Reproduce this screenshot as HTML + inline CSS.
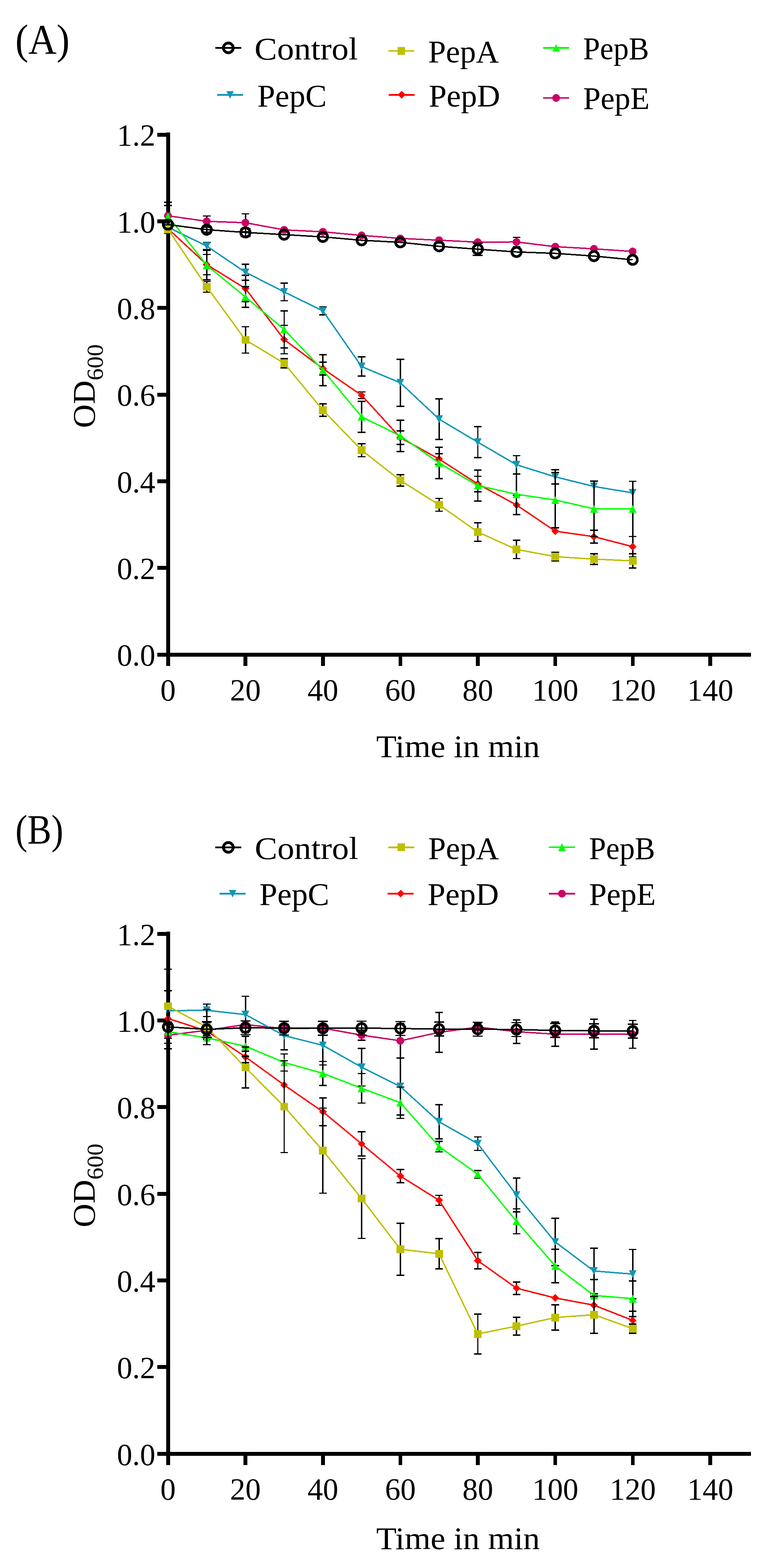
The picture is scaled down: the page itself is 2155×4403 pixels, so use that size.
<!DOCTYPE html>
<html><head><meta charset="utf-8"><title>OD600 time course</title>
<style>html,body{margin:0;padding:0;background:#fff}svg{display:block}</style>
</head><body>
<svg width="2155" height="4403" viewBox="0 0 2155 4403">
<style>
text{font-family:'Liberation Serif', 'DejaVu Serif', serif;fill:#000}
rect,path,polyline,polygon,circle,line{shape-rendering:crispEdges}
.tk{font-size:86.5px}
.ax{font-size:89px}
.lg{font-size:89px}
.sub{font-size:65px}
.pl{font-size:117.5px}
</style>
<rect width="2155" height="4403" fill="#fff"/>
<text x="42.0" y="150.6" class="pl" transform="matrix(0.93725 0 0 1.00000 3.55 0.00)">(A)</text>
<text x="42.0" y="2369.5" class="pl" transform="matrix(0.86027 0 0 1.00000 7.17 0.00)">(B)</text>
<line x1="604.9" y1="134.4" x2="678.1" y2="134.4" stroke="#000000" stroke-width="4.6"/>
<circle cx="641.5" cy="134.4" r="13.65" fill="none" stroke="#000" stroke-width="7.9"/>
<text x="714.5" y="167.2" class="lg" transform="matrix(1.06929 0 0 1.00000 -48.95 0.00)">Control</text>
<line x1="1091" y1="142.9" x2="1164" y2="142.9" stroke="#BFBF00" stroke-width="4.6"/>
<rect x="1116.6" y="132.0" width="21.8" height="21.8" fill="#BFBF00"/>
<text x="1202.0" y="175.2" class="lg" transform="matrix(1.00567 0 0 1.00000 -5.93 0.00)">PepA</text>
<line x1="1526" y1="134.5" x2="1599" y2="134.5" stroke="#00FF00" stroke-width="4.6"/>
<polygon points="1562.5,123.6 1573.4,145.4 1551.6,145.4" fill="#00FF00"/>
<text x="1637.0" y="166.3" class="lg" transform="matrix(0.95968 0 0 1.00000 67.33 0.00)">PepB</text>
<line x1="609.9" y1="266.5" x2="683.1" y2="266.5" stroke="#1097B4" stroke-width="4.6"/>
<polygon points="635.6,255.6 657.4,255.6 646.5,277.4" fill="#1097B4"/>
<text x="722.0" y="298.9" class="lg" transform="matrix(1.01081 0 0 1.00000 -6.84 0.00)">PepC</text>
<line x1="1092.1" y1="266.4" x2="1165" y2="266.4" stroke="#FF0000" stroke-width="4.6"/>
<polygon points="1128.5,255.5 1139.5,266.4 1128.5,277.3 1117.6,266.4" fill="#FF0000"/>
<text x="1203.0" y="298.9" class="lg" transform="matrix(1.01623 0 0 1.00000 -18.07 0.00)">PepD</text>
<line x1="1525.9" y1="275" x2="1599" y2="275" stroke="#CC0066" stroke-width="4.6"/>
<circle cx="1562.5" cy="275.0" r="10.90" fill="#CC0066"/>
<text x="1637.0" y="306.2" class="lg" transform="matrix(0.99556 0 0 1.00000 8.49 0.00)">PepE</text>
<line x1="604.9" y1="2379.5" x2="678.1" y2="2379.5" stroke="#000000" stroke-width="4.6"/>
<circle cx="641.5" cy="2379.5" r="13.65" fill="none" stroke="#000" stroke-width="7.9"/>
<text x="715.3" y="2412.0" class="lg" transform="matrix(1.07030 0 0 1.00000 -49.95 0.00)">Control</text>
<line x1="1090.8" y1="2379.3" x2="1164" y2="2379.3" stroke="#BFBF00" stroke-width="4.6"/>
<rect x="1116.5" y="2368.4" width="21.8" height="21.8" fill="#BFBF00"/>
<text x="1202.0" y="2412.0" class="lg" transform="matrix(1.00567 0 0 1.00000 -5.93 0.00)">PepA</text>
<line x1="1542.2" y1="2379" x2="1615.8" y2="2379" stroke="#00FF00" stroke-width="4.6"/>
<polygon points="1579.0,2368.1 1589.9,2389.9 1568.1,2389.9" fill="#00FF00"/>
<text x="1654.0" y="2412.0" class="lg" transform="matrix(0.96183 0 0 1.00000 64.25 0.00)">PepB</text>
<line x1="617" y1="2509.5" x2="690" y2="2509.5" stroke="#1097B4" stroke-width="4.6"/>
<polygon points="642.6,2498.6 664.4,2498.6 653.5,2520.4" fill="#1097B4"/>
<text x="728.0" y="2540.9" class="lg" transform="matrix(1.01784 0 0 1.00000 -12.14 0.00)">PepC</text>
<line x1="1089.2" y1="2509.4" x2="1162.1" y2="2509.4" stroke="#FF0000" stroke-width="4.6"/>
<polygon points="1125.7,2498.5 1136.6,2509.4 1125.7,2520.3 1114.8,2509.4" fill="#FF0000"/>
<text x="1200.0" y="2541.1" class="lg" transform="matrix(1.01309 0 0 1.00000 -14.45 0.00)">PepD</text>
<line x1="1542.2" y1="2509.4" x2="1615.8" y2="2509.4" stroke="#CC0066" stroke-width="4.6"/>
<circle cx="1579.0" cy="2509.4" r="10.90" fill="#CC0066"/>
<text x="1654.0" y="2541.1" class="lg" transform="matrix(0.99889 0 0 1.00000 2.84 0.00)">PepE</text>
<rect x="466.5" y="372" width="11" height="1497.5" fill="#000"/>
<rect x="442" y="1832.6" width="1667.5" height="11" fill="#000"/>
<rect x="442" y="1832.6" width="30" height="11" fill="#000"/>
<rect x="442" y="1589.2" width="30" height="11" fill="#000"/>
<rect x="442" y="1345.9" width="30" height="11" fill="#000"/>
<rect x="442" y="1102.5" width="30" height="11" fill="#000"/>
<rect x="442" y="859.2" width="30" height="11" fill="#000"/>
<rect x="442" y="615.8" width="30" height="11" fill="#000"/>
<rect x="442" y="372.5" width="30" height="11" fill="#000"/>
<rect x="684.4" y="1838" width="10.4" height="31.5" fill="#000"/>
<rect x="902.1" y="1838" width="10.4" height="31.5" fill="#000"/>
<rect x="1119.8" y="1838" width="10.4" height="31.5" fill="#000"/>
<rect x="1337.4" y="1838" width="10.4" height="31.5" fill="#000"/>
<rect x="1555.0" y="1838" width="10.4" height="31.5" fill="#000"/>
<rect x="1772.7" y="1838" width="10.4" height="31.5" fill="#000"/>
<rect x="1990.3" y="1838" width="10.4" height="31.5" fill="#000"/>
<text x="436.6" y="1869.4" text-anchor="end" class="tk">0.0</text>
<text x="436.6" y="1626.0" text-anchor="end" class="tk">0.2</text>
<text x="436.6" y="1382.7" text-anchor="end" class="tk">0.4</text>
<text x="436.6" y="1139.3" text-anchor="end" class="tk">0.6</text>
<text x="436.6" y="896.0" text-anchor="end" class="tk">0.8</text>
<text x="436.6" y="652.6" text-anchor="end" class="tk">1.0</text>
<text x="436.6" y="409.3" text-anchor="end" class="tk">1.2</text>
<text x="472.0" y="1966.9" text-anchor="middle" class="tk">0</text>
<text x="689.6" y="1966.9" text-anchor="middle" class="tk">20</text>
<text x="907.3" y="1966.9" text-anchor="middle" class="tk">40</text>
<text x="1125.0" y="1966.9" text-anchor="middle" class="tk">60</text>
<text x="1342.6" y="1966.9" text-anchor="middle" class="tk">80</text>
<text x="1560.2" y="1966.9" text-anchor="middle" class="tk">100</text>
<text x="1777.9" y="1966.9" text-anchor="middle" class="tk">120</text>
<text x="1995.5" y="1966.9" text-anchor="middle" class="tk">140</text>
<text x="1287.5" y="2126.2" text-anchor="middle" class="ax" transform="matrix(1.05323 0 0 1.00000 -69.10 0.00)">Time in min</text>
<text transform="translate(266.3,1202.0) rotate(-90) scale(1.0409,1)" class="ax">OD<tspan class="sub" dy="22.5">600</tspan></text>
<rect x="466.5" y="2616.2" width="11" height="1497.5" fill="#000"/>
<rect x="442" y="4076.7999999999997" width="1667.5" height="11" fill="#000"/>
<rect x="442" y="4076.8" width="30" height="11" fill="#000"/>
<rect x="442" y="3833.4" width="30" height="11" fill="#000"/>
<rect x="442" y="3590.1" width="30" height="11" fill="#000"/>
<rect x="442" y="3346.8" width="30" height="11" fill="#000"/>
<rect x="442" y="3103.4" width="30" height="11" fill="#000"/>
<rect x="442" y="2860.0" width="30" height="11" fill="#000"/>
<rect x="442" y="2616.7" width="30" height="11" fill="#000"/>
<rect x="684.4" y="4082.2" width="10.4" height="31.5" fill="#000"/>
<rect x="902.1" y="4082.2" width="10.4" height="31.5" fill="#000"/>
<rect x="1119.8" y="4082.2" width="10.4" height="31.5" fill="#000"/>
<rect x="1337.4" y="4082.2" width="10.4" height="31.5" fill="#000"/>
<rect x="1555.0" y="4082.2" width="10.4" height="31.5" fill="#000"/>
<rect x="1772.7" y="4082.2" width="10.4" height="31.5" fill="#000"/>
<rect x="1990.3" y="4082.2" width="10.4" height="31.5" fill="#000"/>
<text x="436.6" y="4113.6" text-anchor="end" class="tk">0.0</text>
<text x="436.6" y="3870.2" text-anchor="end" class="tk">0.2</text>
<text x="436.6" y="3626.9" text-anchor="end" class="tk">0.4</text>
<text x="436.6" y="3383.6" text-anchor="end" class="tk">0.6</text>
<text x="436.6" y="3140.2" text-anchor="end" class="tk">0.8</text>
<text x="436.6" y="2896.8" text-anchor="end" class="tk">1.0</text>
<text x="436.6" y="2653.5" text-anchor="end" class="tk">1.2</text>
<text x="472.0" y="4211.1" text-anchor="middle" class="tk">0</text>
<text x="689.6" y="4211.1" text-anchor="middle" class="tk">20</text>
<text x="907.3" y="4211.1" text-anchor="middle" class="tk">40</text>
<text x="1125.0" y="4211.1" text-anchor="middle" class="tk">60</text>
<text x="1342.6" y="4211.1" text-anchor="middle" class="tk">80</text>
<text x="1560.2" y="4211.1" text-anchor="middle" class="tk">100</text>
<text x="1777.9" y="4211.1" text-anchor="middle" class="tk">120</text>
<text x="1995.5" y="4211.1" text-anchor="middle" class="tk">140</text>
<text x="1287.5" y="4350.0" text-anchor="middle" class="ax" transform="matrix(1.05323 0 0 1.00000 -69.10 0.00)">Time in min</text>
<text transform="translate(266.3,3446.4) rotate(-90) scale(1.0409,1)" class="ax">OD<tspan class="sub" dy="22.5">600</tspan></text>
<g><path d="M472.0 567.9V643.9M461.2 567.9H482.8M461.2 643.9H482.8" stroke="#000" stroke-width="3.8" fill="none"/><path d="M580.8 606.5V636.5M570.0 606.5H591.5M570.0 636.5H591.5" stroke="#000" stroke-width="3.8" fill="none"/><path d="M689.6 600.4V650.4M678.9 600.4H700.4M678.9 650.4H700.4" stroke="#000" stroke-width="3.8" fill="none"/><path d="M1451.2 666.4V692.4M1440.5 666.4H1462.0M1440.5 692.4H1462.0" stroke="#000" stroke-width="3.8" fill="none"/><polyline points="472.0,605.9 580.8,621.5 689.6,625.4 798.4,645.5 907.2,651.0 1016.0,661.0 1124.8,669.5 1233.6,674.5 1342.4,680.0 1451.2,679.4 1560.0,692.7 1668.8,698.7 1777.6,706.2" fill="none" stroke="#CC0066" stroke-width="4.0" stroke-linejoin="miter"/><circle cx="472.0" cy="605.9" r="10.90" fill="#CC0066"/><circle cx="580.8" cy="621.5" r="10.90" fill="#CC0066"/><circle cx="689.6" cy="625.4" r="10.90" fill="#CC0066"/><circle cx="798.4" cy="645.5" r="10.90" fill="#CC0066"/><circle cx="907.2" cy="651.0" r="10.90" fill="#CC0066"/><circle cx="1016.0" cy="661.0" r="10.90" fill="#CC0066"/><circle cx="1124.8" cy="669.5" r="10.90" fill="#CC0066"/><circle cx="1233.6" cy="674.5" r="10.90" fill="#CC0066"/><circle cx="1342.4" cy="680.0" r="10.90" fill="#CC0066"/><circle cx="1451.2" cy="679.4" r="10.90" fill="#CC0066"/><circle cx="1560.0" cy="692.7" r="10.90" fill="#CC0066"/><circle cx="1668.8" cy="698.7" r="10.90" fill="#CC0066"/><circle cx="1777.6" cy="706.2" r="10.90" fill="#CC0066"/></g>
<g><path d="M580.8 714.5V771.5M570.0 714.5H591.5M570.0 771.5H591.5" stroke="#000" stroke-width="3.8" fill="none"/><path d="M689.6 773.2V847.2M678.9 773.2H700.4M678.9 847.2H700.4" stroke="#000" stroke-width="3.8" fill="none"/><path d="M798.4 913.5V993.5M787.7 913.5H809.2M787.7 993.5H809.2" stroke="#000" stroke-width="3.8" fill="none"/><path d="M907.2 1017.0V1053.0M896.5 1017.0H918.0M896.5 1053.0H918.0" stroke="#000" stroke-width="3.8" fill="none"/><path d="M1016.0 1100.5V1119.5M1005.2 1100.5H1026.8M1005.2 1119.5H1026.8" stroke="#000" stroke-width="3.8" fill="none"/><path d="M1124.8 1210.0V1248.0M1114.1 1210.0H1135.6M1114.1 1248.0H1135.6" stroke="#000" stroke-width="3.8" fill="none"/><path d="M1233.6 1274.0V1304.0M1222.8 1274.0H1244.3M1222.8 1304.0H1244.3" stroke="#000" stroke-width="3.8" fill="none"/><path d="M1342.4 1337.4V1380.6M1331.7 1337.4H1353.2M1331.7 1380.6H1353.2" stroke="#000" stroke-width="3.8" fill="none"/><path d="M1451.2 1391.0V1445.0M1440.5 1391.0H1462.0M1440.5 1445.0H1462.0" stroke="#000" stroke-width="3.8" fill="none"/><path d="M1668.8 1489.0V1525.0M1658.1 1489.0H1679.6M1658.1 1525.0H1679.6" stroke="#000" stroke-width="3.8" fill="none"/><path d="M1777.6 1506.5V1563.5M1766.9 1506.5H1788.4M1766.9 1563.5H1788.4" stroke="#000" stroke-width="3.8" fill="none"/><polyline points="472.0,642.0 580.8,743.0 689.6,810.2 798.4,953.5 907.2,1035.0 1016.0,1110.0 1124.8,1229.0 1233.6,1289.0 1342.4,1359.0 1451.2,1418.0 1560.0,1491.5 1668.8,1507.0 1777.6,1535.0" fill="none" stroke="#FF0000" stroke-width="4.0" stroke-linejoin="miter"/><polygon points="472.0,631.1 482.9,642.0 472.0,652.9 461.1,642.0" fill="#FF0000"/><polygon points="580.8,732.1 591.7,743.0 580.8,753.9 569.9,743.0" fill="#FF0000"/><polygon points="689.6,799.3 700.5,810.2 689.6,821.1 678.7,810.2" fill="#FF0000"/><polygon points="798.4,942.6 809.3,953.5 798.4,964.4 787.5,953.5" fill="#FF0000"/><polygon points="907.2,1024.1 918.1,1035.0 907.2,1045.9 896.3,1035.0" fill="#FF0000"/><polygon points="1016.0,1099.1 1026.9,1110.0 1016.0,1120.9 1005.1,1110.0" fill="#FF0000"/><polygon points="1124.8,1218.1 1135.7,1229.0 1124.8,1239.9 1113.9,1229.0" fill="#FF0000"/><polygon points="1233.6,1278.1 1244.5,1289.0 1233.6,1299.9 1222.7,1289.0" fill="#FF0000"/><polygon points="1342.4,1348.1 1353.3,1359.0 1342.4,1369.9 1331.5,1359.0" fill="#FF0000"/><polygon points="1451.2,1407.1 1462.1,1418.0 1451.2,1428.9 1440.3,1418.0" fill="#FF0000"/><polygon points="1560.0,1480.6 1570.9,1491.5 1560.0,1502.4 1549.1,1491.5" fill="#FF0000"/><polygon points="1668.8,1496.1 1679.7,1507.0 1668.8,1517.9 1657.9,1507.0" fill="#FF0000"/><polygon points="1777.6,1524.1 1788.5,1535.0 1777.6,1545.9 1766.7,1535.0" fill="#FF0000"/></g>
<g><path d="M580.8 680.9V700.9M570.0 680.9H591.5M570.0 700.9H591.5" stroke="#000" stroke-width="3.8" fill="none"/><path d="M689.6 741.7V787.3M678.9 741.7H700.4M678.9 787.3H700.4" stroke="#000" stroke-width="3.8" fill="none"/><path d="M798.4 795.1V844.5M787.7 795.1H809.2M787.7 844.5H809.2" stroke="#000" stroke-width="3.8" fill="none"/><path d="M907.2 862.0V884.0M896.5 862.0H918.0M896.5 884.0H918.0" stroke="#000" stroke-width="3.8" fill="none"/><path d="M1016.0 1002.3V1056.3M1005.2 1002.3H1026.8M1005.2 1056.3H1026.8" stroke="#000" stroke-width="3.8" fill="none"/><path d="M1124.8 1009.3V1140.7M1114.1 1009.3H1135.6M1114.1 1140.7H1135.6" stroke="#000" stroke-width="3.8" fill="none"/><path d="M1233.6 1120.0V1234.0M1222.8 1120.0H1244.3M1222.8 1234.0H1244.3" stroke="#000" stroke-width="3.8" fill="none"/><path d="M1342.4 1198.2V1285.0M1331.7 1198.2H1353.2M1331.7 1285.0H1353.2" stroke="#000" stroke-width="3.8" fill="none"/><path d="M1451.2 1279.4V1330.6M1440.5 1279.4H1462.0M1440.5 1330.6H1462.0" stroke="#000" stroke-width="3.8" fill="none"/><path d="M1560.0 1319.0V1359.0M1549.2 1319.0H1570.8M1549.2 1359.0H1570.8" stroke="#000" stroke-width="3.8" fill="none"/><polyline points="472.0,638.0 580.8,690.9 689.6,764.5 798.4,819.8 907.2,873.0 1016.0,1029.3 1124.8,1075.0 1233.6,1177.0 1342.4,1241.6 1451.2,1305.0 1560.0,1339.0 1668.8,1366.0 1777.6,1384.0" fill="none" stroke="#1097B4" stroke-width="4.0" stroke-linejoin="miter"/><polygon points="461.1,627.1 482.9,627.1 472.0,648.9" fill="#1097B4"/><polygon points="569.9,680.0 591.7,680.0 580.8,701.8" fill="#1097B4"/><polygon points="678.7,753.6 700.5,753.6 689.6,775.4" fill="#1097B4"/><polygon points="787.5,808.9 809.3,808.9 798.4,830.7" fill="#1097B4"/><polygon points="896.3,862.1 918.1,862.1 907.2,883.9" fill="#1097B4"/><polygon points="1005.1,1018.4 1026.9,1018.4 1016.0,1040.2" fill="#1097B4"/><polygon points="1113.9,1064.1 1135.7,1064.1 1124.8,1085.9" fill="#1097B4"/><polygon points="1222.7,1166.1 1244.5,1166.1 1233.6,1187.9" fill="#1097B4"/><polygon points="1331.5,1230.7 1353.3,1230.7 1342.4,1252.5" fill="#1097B4"/><polygon points="1440.3,1294.1 1462.1,1294.1 1451.2,1315.9" fill="#1097B4"/><polygon points="1549.1,1328.1 1570.9,1328.1 1560.0,1349.9" fill="#1097B4"/><polygon points="1657.9,1355.1 1679.7,1355.1 1668.8,1376.9" fill="#1097B4"/><polygon points="1766.7,1373.1 1788.5,1373.1 1777.6,1394.9" fill="#1097B4"/></g>
<g><path d="M472.0 577.0V637.0M461.2 577.0H482.8M461.2 637.0H482.8" stroke="#000" stroke-width="3.8" fill="none"/><path d="M580.8 703.2V786.2M570.0 703.2H591.5M570.0 786.2H591.5" stroke="#000" stroke-width="3.8" fill="none"/><path d="M689.6 805.0V863.0M678.9 805.0H700.4M678.9 863.0H700.4" stroke="#000" stroke-width="3.8" fill="none"/><path d="M798.4 873.3V977.3M787.7 873.3H809.2M787.7 977.3H809.2" stroke="#000" stroke-width="3.8" fill="none"/><path d="M907.2 996.0V1083.0M896.5 996.0H918.0M896.5 1083.0H918.0" stroke="#000" stroke-width="3.8" fill="none"/><path d="M1016.0 1126.7V1213.9M1005.2 1126.7H1026.8M1005.2 1213.9H1026.8" stroke="#000" stroke-width="3.8" fill="none"/><path d="M1124.8 1180.3V1267.7M1114.1 1180.3H1135.6M1114.1 1267.7H1135.6" stroke="#000" stroke-width="3.8" fill="none"/><path d="M1233.6 1256.0V1344.0M1222.8 1256.0H1244.3M1222.8 1344.0H1244.3" stroke="#000" stroke-width="3.8" fill="none"/><path d="M1342.4 1320.0V1407.0M1331.7 1320.0H1353.2M1331.7 1407.0H1353.2" stroke="#000" stroke-width="3.8" fill="none"/><path d="M1451.2 1330.5V1445.5M1440.5 1330.5H1462.0M1440.5 1445.5H1462.0" stroke="#000" stroke-width="3.8" fill="none"/><path d="M1560.0 1326.4V1481.6M1549.2 1326.4H1570.8M1549.2 1481.6H1570.8" stroke="#000" stroke-width="3.8" fill="none"/><path d="M1668.8 1350.9V1506.5M1658.1 1350.9H1679.6M1658.1 1506.5H1679.6" stroke="#000" stroke-width="3.8" fill="none"/><path d="M1777.6 1351.5V1506.5M1766.9 1351.5H1788.4M1766.9 1506.5H1788.4" stroke="#000" stroke-width="3.8" fill="none"/><polyline points="472.0,607.0 580.8,744.7 689.6,834.0 798.4,925.3 907.2,1039.5 1016.0,1170.3 1124.8,1224.0 1233.6,1300.0 1342.4,1363.5 1451.2,1388.0 1560.0,1404.0 1668.8,1428.7 1777.6,1429.0" fill="none" stroke="#00FF00" stroke-width="4.0" stroke-linejoin="miter"/><polygon points="472.0,596.1 482.9,617.9 461.1,617.9" fill="#00FF00"/><polygon points="580.8,733.8 591.7,755.6 569.9,755.6" fill="#00FF00"/><polygon points="689.6,823.1 700.5,844.9 678.7,844.9" fill="#00FF00"/><polygon points="798.4,914.4 809.3,936.2 787.5,936.2" fill="#00FF00"/><polygon points="907.2,1028.6 918.1,1050.4 896.3,1050.4" fill="#00FF00"/><polygon points="1016.0,1159.4 1026.9,1181.2 1005.1,1181.2" fill="#00FF00"/><polygon points="1124.8,1213.1 1135.7,1234.9 1113.9,1234.9" fill="#00FF00"/><polygon points="1233.6,1289.1 1244.5,1310.9 1222.7,1310.9" fill="#00FF00"/><polygon points="1342.4,1352.6 1353.3,1374.4 1331.5,1374.4" fill="#00FF00"/><polygon points="1451.2,1377.1 1462.1,1398.9 1440.3,1398.9" fill="#00FF00"/><polygon points="1560.0,1393.1 1570.9,1414.9 1549.1,1414.9" fill="#00FF00"/><polygon points="1668.8,1417.8 1679.7,1439.6 1657.9,1439.6" fill="#00FF00"/><polygon points="1777.6,1418.1 1788.5,1439.9 1766.7,1439.9" fill="#00FF00"/></g>
<g><path d="M472.0 632.1V655.3M461.2 632.1H482.8M461.2 655.3H482.8" stroke="#000" stroke-width="3.8" fill="none"/><path d="M580.8 790.5V820.5M570.0 790.5H591.5M570.0 820.5H591.5" stroke="#000" stroke-width="3.8" fill="none"/><path d="M689.6 917.5V991.5M678.9 917.5H700.4M678.9 991.5H700.4" stroke="#000" stroke-width="3.8" fill="none"/><path d="M798.4 1007.1V1033.1M787.7 1007.1H809.2M787.7 1033.1H809.2" stroke="#000" stroke-width="3.8" fill="none"/><path d="M907.2 1134.1V1169.1M896.5 1134.1H918.0M896.5 1169.1H918.0" stroke="#000" stroke-width="3.8" fill="none"/><path d="M1016.0 1245.6V1282.4M1005.2 1245.6H1026.8M1005.2 1282.4H1026.8" stroke="#000" stroke-width="3.8" fill="none"/><path d="M1124.8 1332.7V1365.3M1114.1 1332.7H1135.6M1114.1 1365.3H1135.6" stroke="#000" stroke-width="3.8" fill="none"/><path d="M1233.6 1399.5V1435.5M1222.8 1399.5H1244.3M1222.8 1435.5H1244.3" stroke="#000" stroke-width="3.8" fill="none"/><path d="M1342.4 1468.3V1519.7M1331.7 1468.3H1353.2M1331.7 1519.7H1353.2" stroke="#000" stroke-width="3.8" fill="none"/><path d="M1451.2 1517.1V1568.5M1440.5 1517.1H1462.0M1440.5 1568.5H1462.0" stroke="#000" stroke-width="3.8" fill="none"/><path d="M1560.0 1551.0V1575.0M1549.2 1551.0H1570.8M1549.2 1575.0H1570.8" stroke="#000" stroke-width="3.8" fill="none"/><path d="M1668.8 1555.3V1584.7M1658.1 1555.3H1679.6M1658.1 1584.7H1679.6" stroke="#000" stroke-width="3.8" fill="none"/><path d="M1777.6 1555.0V1595.0M1766.9 1555.0H1788.4M1766.9 1595.0H1788.4" stroke="#000" stroke-width="3.8" fill="none"/><polyline points="472.0,643.7 580.8,805.5 689.6,954.5 798.4,1020.1 907.2,1151.6 1016.0,1264.0 1124.8,1349.0 1233.6,1417.5 1342.4,1494.0 1451.2,1542.8 1560.0,1563.0 1668.8,1570.0 1777.6,1575.0" fill="none" stroke="#BFBF00" stroke-width="4.0" stroke-linejoin="miter"/><rect x="461.1" y="632.8" width="21.8" height="21.8" fill="#BFBF00"/><rect x="569.9" y="794.6" width="21.8" height="21.8" fill="#BFBF00"/><rect x="678.7" y="943.6" width="21.8" height="21.8" fill="#BFBF00"/><rect x="787.5" y="1009.2" width="21.8" height="21.8" fill="#BFBF00"/><rect x="896.3" y="1140.7" width="21.8" height="21.8" fill="#BFBF00"/><rect x="1005.1" y="1253.1" width="21.8" height="21.8" fill="#BFBF00"/><rect x="1113.9" y="1338.1" width="21.8" height="21.8" fill="#BFBF00"/><rect x="1222.7" y="1406.6" width="21.8" height="21.8" fill="#BFBF00"/><rect x="1331.5" y="1483.1" width="21.8" height="21.8" fill="#BFBF00"/><rect x="1440.3" y="1531.9" width="21.8" height="21.8" fill="#BFBF00"/><rect x="1549.1" y="1552.1" width="21.8" height="21.8" fill="#BFBF00"/><rect x="1657.9" y="1559.1" width="21.8" height="21.8" fill="#BFBF00"/><rect x="1766.7" y="1564.1" width="21.8" height="21.8" fill="#BFBF00"/></g>
<g><path d="M580.8 637.9V651.9M566.8 637.9H594.8M566.8 651.9H594.8" stroke="#000" stroke-width="3.8" fill="none"/><path d="M689.6 641.7V663.7M675.6 641.7H703.6M675.6 663.7H703.6" stroke="#000" stroke-width="3.8" fill="none"/><path d="M1342.4 682.8V716.8M1328.4 682.8H1356.4M1328.4 716.8H1356.4" stroke="#000" stroke-width="3.8" fill="none"/><polyline points="472.0,630.6 580.8,644.9 689.6,652.7 798.4,658.8 907.2,665.2 1016.0,674.7 1124.8,680.5 1233.6,691.7 1342.4,699.8 1451.2,707.5 1560.0,711.5 1668.8,719.0 1777.6,729.6" fill="none" stroke="#000000" stroke-width="4.0" stroke-linejoin="miter"/><circle cx="472.0" cy="630.6" r="13.1" fill="none" stroke="#000" stroke-width="7.6"/><circle cx="580.8" cy="644.9" r="13.1" fill="none" stroke="#000" stroke-width="7.6"/><circle cx="689.6" cy="652.7" r="13.1" fill="none" stroke="#000" stroke-width="7.6"/><circle cx="798.4" cy="658.8" r="13.1" fill="none" stroke="#000" stroke-width="7.6"/><circle cx="907.2" cy="665.2" r="13.1" fill="none" stroke="#000" stroke-width="7.6"/><circle cx="1016.0" cy="674.7" r="13.1" fill="none" stroke="#000" stroke-width="7.6"/><circle cx="1124.8" cy="680.5" r="13.1" fill="none" stroke="#000" stroke-width="7.6"/><circle cx="1233.6" cy="691.7" r="13.1" fill="none" stroke="#000" stroke-width="7.6"/><circle cx="1342.4" cy="699.8" r="13.1" fill="none" stroke="#000" stroke-width="7.6"/><circle cx="1451.2" cy="707.5" r="13.1" fill="none" stroke="#000" stroke-width="7.6"/><circle cx="1560.0" cy="711.5" r="13.1" fill="none" stroke="#000" stroke-width="7.6"/><circle cx="1668.8" cy="719.0" r="13.1" fill="none" stroke="#000" stroke-width="7.6"/><circle cx="1777.6" cy="729.6" r="13.1" fill="none" stroke="#000" stroke-width="7.6"/></g>
<g><path d="M472.0 2869.4V2944.6M461.2 2869.4H482.8M461.2 2944.6H482.8" stroke="#000" stroke-width="3.8" fill="none"/><path d="M580.8 2878.0V2908.0M570.0 2878.0H591.5M570.0 2908.0H591.5" stroke="#000" stroke-width="3.8" fill="none"/><path d="M689.6 2867.0V2887.0M678.9 2867.0H700.4M678.9 2887.0H700.4" stroke="#000" stroke-width="3.8" fill="none"/><path d="M798.4 2878.5V2898.5M787.7 2878.5H809.2M787.7 2898.5H809.2" stroke="#000" stroke-width="3.8" fill="none"/><path d="M907.2 2877.0V2897.0M896.5 2877.0H918.0M896.5 2897.0H918.0" stroke="#000" stroke-width="3.8" fill="none"/><path d="M1016.0 2892.8V2920.8M1005.2 2892.8H1026.8M1005.2 2920.8H1026.8" stroke="#000" stroke-width="3.8" fill="none"/><path d="M1124.8 2873.5V2971.5M1114.1 2873.5H1135.6M1114.1 2971.5H1135.6" stroke="#000" stroke-width="3.8" fill="none"/><path d="M1233.6 2843.0V2955.0M1222.8 2843.0H1244.3M1222.8 2955.0H1244.3" stroke="#000" stroke-width="3.8" fill="none"/><path d="M1342.4 2874.0V2894.0M1331.7 2874.0H1353.2M1331.7 2894.0H1353.2" stroke="#000" stroke-width="3.8" fill="none"/><path d="M1451.2 2864.0V2930.0M1440.5 2864.0H1462.0M1440.5 2930.0H1462.0" stroke="#000" stroke-width="3.8" fill="none"/><path d="M1560.0 2870.0V2938.0M1549.2 2870.0H1570.8M1549.2 2938.0H1570.8" stroke="#000" stroke-width="3.8" fill="none"/><path d="M1668.8 2862.3V2946.3M1658.1 2862.3H1679.6M1658.1 2946.3H1679.6" stroke="#000" stroke-width="3.8" fill="none"/><path d="M1777.6 2865.5V2943.5M1766.9 2865.5H1788.4M1766.9 2943.5H1788.4" stroke="#000" stroke-width="3.8" fill="none"/><polyline points="472.0,2907.0 580.8,2893.0 689.6,2877.0 798.4,2888.5 907.2,2887.0 1016.0,2906.8 1124.8,2922.5 1233.6,2899.0 1342.4,2884.0 1451.2,2897.0 1560.0,2904.0 1668.8,2904.3 1777.6,2904.5" fill="none" stroke="#CC0066" stroke-width="4.0" stroke-linejoin="miter"/><circle cx="472.0" cy="2907.0" r="10.90" fill="#CC0066"/><circle cx="580.8" cy="2893.0" r="10.90" fill="#CC0066"/><circle cx="689.6" cy="2877.0" r="10.90" fill="#CC0066"/><circle cx="798.4" cy="2888.5" r="10.90" fill="#CC0066"/><circle cx="907.2" cy="2887.0" r="10.90" fill="#CC0066"/><circle cx="1016.0" cy="2906.8" r="10.90" fill="#CC0066"/><circle cx="1124.8" cy="2922.5" r="10.90" fill="#CC0066"/><circle cx="1233.6" cy="2899.0" r="10.90" fill="#CC0066"/><circle cx="1342.4" cy="2884.0" r="10.90" fill="#CC0066"/><circle cx="1451.2" cy="2897.0" r="10.90" fill="#CC0066"/><circle cx="1560.0" cy="2904.0" r="10.90" fill="#CC0066"/><circle cx="1668.8" cy="2904.3" r="10.90" fill="#CC0066"/><circle cx="1777.6" cy="2904.5" r="10.90" fill="#CC0066"/></g>
<g><path d="M580.8 2872.0V2918.0M570.0 2872.0H591.5M570.0 2918.0H591.5" stroke="#000" stroke-width="3.8" fill="none"/><path d="M689.6 2951.8V2983.8M678.9 2951.8H700.4M678.9 2983.8H700.4" stroke="#000" stroke-width="3.8" fill="none"/><path d="M907.2 3083.0V3161.0M896.5 3083.0H918.0M896.5 3161.0H918.0" stroke="#000" stroke-width="3.8" fill="none"/><path d="M1016.0 3177.7V3246.3M1005.2 3177.7H1026.8M1005.2 3246.3H1026.8" stroke="#000" stroke-width="3.8" fill="none"/><path d="M1124.8 3284.1V3321.1M1114.1 3284.1H1135.6M1114.1 3321.1H1135.6" stroke="#000" stroke-width="3.8" fill="none"/><path d="M1233.6 3356.4V3384.4M1222.8 3356.4H1244.3M1222.8 3384.4H1244.3" stroke="#000" stroke-width="3.8" fill="none"/><path d="M1342.4 3517.0V3563.0M1331.7 3517.0H1353.2M1331.7 3563.0H1353.2" stroke="#000" stroke-width="3.8" fill="none"/><path d="M1451.2 3599.7V3634.7M1440.5 3599.7H1462.0M1440.5 3634.7H1462.0" stroke="#000" stroke-width="3.8" fill="none"/><path d="M1668.8 3641.0V3689.0M1658.1 3641.0H1679.6M1658.1 3689.0H1679.6" stroke="#000" stroke-width="3.8" fill="none"/><path d="M1777.6 3681.9V3733.3M1766.9 3681.9H1788.4M1766.9 3733.3H1788.4" stroke="#000" stroke-width="3.8" fill="none"/><polyline points="472.0,2860.0 580.8,2895.0 689.6,2967.8 798.4,3046.7 907.2,3122.0 1016.0,3212.0 1124.8,3302.6 1233.6,3370.4 1342.4,3540.0 1451.2,3617.2 1560.0,3644.8 1668.8,3665.0 1777.6,3707.6" fill="none" stroke="#FF0000" stroke-width="4.0" stroke-linejoin="miter"/><polygon points="472.0,2849.1 482.9,2860.0 472.0,2870.9 461.1,2860.0" fill="#FF0000"/><polygon points="580.8,2884.1 591.7,2895.0 580.8,2905.9 569.9,2895.0" fill="#FF0000"/><polygon points="689.6,2956.9 700.5,2967.8 689.6,2978.7 678.7,2967.8" fill="#FF0000"/><polygon points="798.4,3035.8 809.3,3046.7 798.4,3057.6 787.5,3046.7" fill="#FF0000"/><polygon points="907.2,3111.1 918.1,3122.0 907.2,3132.9 896.3,3122.0" fill="#FF0000"/><polygon points="1016.0,3201.1 1026.9,3212.0 1016.0,3222.9 1005.1,3212.0" fill="#FF0000"/><polygon points="1124.8,3291.7 1135.7,3302.6 1124.8,3313.5 1113.9,3302.6" fill="#FF0000"/><polygon points="1233.6,3359.5 1244.5,3370.4 1233.6,3381.3 1222.7,3370.4" fill="#FF0000"/><polygon points="1342.4,3529.1 1353.3,3540.0 1342.4,3550.9 1331.5,3540.0" fill="#FF0000"/><polygon points="1451.2,3606.3 1462.1,3617.2 1451.2,3628.1 1440.3,3617.2" fill="#FF0000"/><polygon points="1560.0,3633.9 1570.9,3644.8 1560.0,3655.7 1549.1,3644.8" fill="#FF0000"/><polygon points="1668.8,3654.1 1679.7,3665.0 1668.8,3675.9 1657.9,3665.0" fill="#FF0000"/><polygon points="1777.6,3696.7 1788.5,3707.6 1777.6,3718.5 1766.7,3707.6" fill="#FF0000"/></g>
<g><path d="M472.0 2782.0V2894.0M461.2 2782.0H482.8M461.2 2894.0H482.8" stroke="#000" stroke-width="3.8" fill="none"/><path d="M580.8 2819.5V2854.5M570.0 2819.5H591.5M570.0 2854.5H591.5" stroke="#000" stroke-width="3.8" fill="none"/><path d="M689.6 2797.5V2900.5M678.9 2797.5H700.4M678.9 2900.5H700.4" stroke="#000" stroke-width="3.8" fill="none"/><path d="M798.4 2868.0V2948.0M787.7 2868.0H809.2M787.7 2948.0H809.2" stroke="#000" stroke-width="3.8" fill="none"/><path d="M907.2 2880.4V2990.4M896.5 2880.4H918.0M896.5 2990.4H918.0" stroke="#000" stroke-width="3.8" fill="none"/><path d="M1016.0 2944.2V3049.4M1005.2 2944.2H1026.8M1005.2 3049.4H1026.8" stroke="#000" stroke-width="3.8" fill="none"/><path d="M1124.8 2971.0V3131.0M1114.1 2971.0H1135.6M1114.1 3131.0H1135.6" stroke="#000" stroke-width="3.8" fill="none"/><path d="M1233.6 3102.0V3198.0M1222.8 3102.0H1244.3M1222.8 3198.0H1244.3" stroke="#000" stroke-width="3.8" fill="none"/><path d="M1342.4 3192.4V3230.4M1331.7 3192.4H1353.2M1331.7 3230.4H1353.2" stroke="#000" stroke-width="3.8" fill="none"/><path d="M1451.2 3307.9V3403.1M1440.5 3307.9H1462.0M1440.5 3403.1H1462.0" stroke="#000" stroke-width="3.8" fill="none"/><path d="M1560.0 3421.1V3554.1M1549.2 3421.1H1570.8M1549.2 3554.1H1570.8" stroke="#000" stroke-width="3.8" fill="none"/><path d="M1668.8 3505.3V3632.7M1658.1 3505.3H1679.6M1658.1 3632.7H1679.6" stroke="#000" stroke-width="3.8" fill="none"/><path d="M1777.6 3508.4V3647.0M1766.9 3508.4H1788.4M1766.9 3647.0H1788.4" stroke="#000" stroke-width="3.8" fill="none"/><polyline points="472.0,2838.0 580.8,2837.0 689.6,2849.0 798.4,2908.0 907.2,2935.4 1016.0,2996.8 1124.8,3051.0 1233.6,3150.0 1342.4,3211.4 1451.2,3355.5 1560.0,3487.6 1668.8,3569.0 1777.6,3577.7" fill="none" stroke="#1097B4" stroke-width="4.0" stroke-linejoin="miter"/><polygon points="461.1,2827.1 482.9,2827.1 472.0,2848.9" fill="#1097B4"/><polygon points="569.9,2826.1 591.7,2826.1 580.8,2847.9" fill="#1097B4"/><polygon points="678.7,2838.1 700.5,2838.1 689.6,2859.9" fill="#1097B4"/><polygon points="787.5,2897.1 809.3,2897.1 798.4,2918.9" fill="#1097B4"/><polygon points="896.3,2924.5 918.1,2924.5 907.2,2946.3" fill="#1097B4"/><polygon points="1005.1,2985.9 1026.9,2985.9 1016.0,3007.7" fill="#1097B4"/><polygon points="1113.9,3040.1 1135.7,3040.1 1124.8,3061.9" fill="#1097B4"/><polygon points="1222.7,3139.1 1244.5,3139.1 1233.6,3160.9" fill="#1097B4"/><polygon points="1331.5,3200.5 1353.3,3200.5 1342.4,3222.3" fill="#1097B4"/><polygon points="1440.3,3344.6 1462.1,3344.6 1451.2,3366.4" fill="#1097B4"/><polygon points="1549.1,3476.7 1570.9,3476.7 1560.0,3498.5" fill="#1097B4"/><polygon points="1657.9,3558.1 1679.7,3558.1 1668.8,3579.9" fill="#1097B4"/><polygon points="1766.7,3566.8 1788.5,3566.8 1777.6,3588.6" fill="#1097B4"/></g>
<g><path d="M472.0 2878.5V2915.5M461.2 2878.5H482.8M461.2 2915.5H482.8" stroke="#000" stroke-width="3.8" fill="none"/><path d="M689.6 2909.7V2965.7M678.9 2909.7H700.4M678.9 2965.7H700.4" stroke="#000" stroke-width="3.8" fill="none"/><path d="M798.4 2959.5V3007.5M787.7 2959.5H809.2M787.7 3007.5H809.2" stroke="#000" stroke-width="3.8" fill="none"/><path d="M907.2 2980.4V3047.6M896.5 2980.4H918.0M896.5 3047.6H918.0" stroke="#000" stroke-width="3.8" fill="none"/><path d="M1016.0 3014.5V3097.5M1005.2 3014.5H1026.8M1005.2 3097.5H1026.8" stroke="#000" stroke-width="3.8" fill="none"/><path d="M1124.8 3052.4V3140.4M1114.1 3052.4H1135.6M1114.1 3140.4H1135.6" stroke="#000" stroke-width="3.8" fill="none"/><path d="M1233.6 3205.0V3234.4M1222.8 3205.0H1244.3M1222.8 3234.4H1244.3" stroke="#000" stroke-width="3.8" fill="none"/><path d="M1342.4 3286.6V3307.8M1331.7 3286.6H1353.2M1331.7 3307.8H1353.2" stroke="#000" stroke-width="3.8" fill="none"/><path d="M1451.2 3394.5V3464.5M1440.5 3394.5H1462.0M1440.5 3464.5H1462.0" stroke="#000" stroke-width="3.8" fill="none"/><path d="M1560.0 3508.0V3602.0M1549.2 3508.0H1570.8M1549.2 3602.0H1570.8" stroke="#000" stroke-width="3.8" fill="none"/><path d="M1668.8 3593.0V3682.4M1658.1 3593.0H1679.6M1658.1 3682.4H1679.6" stroke="#000" stroke-width="3.8" fill="none"/><path d="M1777.6 3596.6V3696.6M1766.9 3596.6H1788.4M1766.9 3696.6H1788.4" stroke="#000" stroke-width="3.8" fill="none"/><polyline points="472.0,2897.0 580.8,2914.5 689.6,2937.7 798.4,2983.5 907.2,3014.0 1016.0,3056.0 1124.8,3096.4 1233.6,3219.7 1342.4,3297.2 1451.2,3429.5 1560.0,3555.0 1668.8,3637.7 1777.6,3646.6" fill="none" stroke="#00FF00" stroke-width="4.0" stroke-linejoin="miter"/><polygon points="472.0,2886.1 482.9,2907.9 461.1,2907.9" fill="#00FF00"/><polygon points="580.8,2903.6 591.7,2925.4 569.9,2925.4" fill="#00FF00"/><polygon points="689.6,2926.8 700.5,2948.6 678.7,2948.6" fill="#00FF00"/><polygon points="798.4,2972.6 809.3,2994.4 787.5,2994.4" fill="#00FF00"/><polygon points="907.2,3003.1 918.1,3024.9 896.3,3024.9" fill="#00FF00"/><polygon points="1016.0,3045.1 1026.9,3066.9 1005.1,3066.9" fill="#00FF00"/><polygon points="1124.8,3085.5 1135.7,3107.3 1113.9,3107.3" fill="#00FF00"/><polygon points="1233.6,3208.8 1244.5,3230.6 1222.7,3230.6" fill="#00FF00"/><polygon points="1342.4,3286.3 1353.3,3308.1 1331.5,3308.1" fill="#00FF00"/><polygon points="1451.2,3418.6 1462.1,3440.4 1440.3,3440.4" fill="#00FF00"/><polygon points="1560.0,3544.1 1570.9,3565.9 1549.1,3565.9" fill="#00FF00"/><polygon points="1668.8,3626.8 1679.7,3648.6 1657.9,3648.6" fill="#00FF00"/><polygon points="1777.6,3635.7 1788.5,3657.5 1766.7,3657.5" fill="#00FF00"/></g>
<g><path d="M472.0 2721.4V2929.4M461.2 2721.4H482.8M461.2 2929.4H482.8" stroke="#000" stroke-width="3.8" fill="none"/><path d="M580.8 2834.5V2933.5M570.0 2834.5H591.5M570.0 2933.5H591.5" stroke="#000" stroke-width="3.8" fill="none"/><path d="M689.6 2939.8V3055.0M678.9 2939.8H700.4M678.9 3055.0H700.4" stroke="#000" stroke-width="3.8" fill="none"/><path d="M798.4 2978.4V3236.4M787.7 2978.4H809.2M787.7 3236.4H809.2" stroke="#000" stroke-width="3.8" fill="none"/><path d="M907.2 3111.5V3350.5M896.5 3111.5H918.0M896.5 3350.5H918.0" stroke="#000" stroke-width="3.8" fill="none"/><path d="M1016.0 3253.4V3477.4M1005.2 3253.4H1026.8M1005.2 3477.4H1026.8" stroke="#000" stroke-width="3.8" fill="none"/><path d="M1124.8 3435.0V3581.0M1114.1 3435.0H1135.6M1114.1 3581.0H1135.6" stroke="#000" stroke-width="3.8" fill="none"/><path d="M1233.6 3478.1V3563.3M1222.8 3478.1H1244.3M1222.8 3563.3H1244.3" stroke="#000" stroke-width="3.8" fill="none"/><path d="M1342.4 3689.8V3801.8M1331.7 3689.8H1353.2M1331.7 3801.8H1353.2" stroke="#000" stroke-width="3.8" fill="none"/><path d="M1451.2 3698.8V3748.8M1440.5 3698.8H1462.0M1440.5 3748.8H1462.0" stroke="#000" stroke-width="3.8" fill="none"/><path d="M1560.0 3664.2V3735.2M1549.2 3664.2H1570.8M1549.2 3735.2H1570.8" stroke="#000" stroke-width="3.8" fill="none"/><path d="M1668.8 3639.8V3743.8M1658.1 3639.8H1679.6M1658.1 3743.8H1679.6" stroke="#000" stroke-width="3.8" fill="none"/><path d="M1777.6 3717.8V3743.8M1766.9 3717.8H1788.4M1766.9 3743.8H1788.4" stroke="#000" stroke-width="3.8" fill="none"/><polyline points="472.0,2825.4 580.8,2884.0 689.6,2997.4 798.4,3107.4 907.2,3231.0 1016.0,3365.4 1124.8,3508.0 1233.6,3520.7 1342.4,3745.8 1451.2,3723.8 1560.0,3699.7 1668.8,3691.8 1777.6,3730.8" fill="none" stroke="#BFBF00" stroke-width="4.0" stroke-linejoin="miter"/><rect x="461.1" y="2814.5" width="21.8" height="21.8" fill="#BFBF00"/><rect x="569.9" y="2873.1" width="21.8" height="21.8" fill="#BFBF00"/><rect x="678.7" y="2986.5" width="21.8" height="21.8" fill="#BFBF00"/><rect x="787.5" y="3096.5" width="21.8" height="21.8" fill="#BFBF00"/><rect x="896.3" y="3220.1" width="21.8" height="21.8" fill="#BFBF00"/><rect x="1005.1" y="3354.5" width="21.8" height="21.8" fill="#BFBF00"/><rect x="1113.9" y="3497.1" width="21.8" height="21.8" fill="#BFBF00"/><rect x="1222.7" y="3509.8" width="21.8" height="21.8" fill="#BFBF00"/><rect x="1331.5" y="3734.9" width="21.8" height="21.8" fill="#BFBF00"/><rect x="1440.3" y="3712.9" width="21.8" height="21.8" fill="#BFBF00"/><rect x="1549.1" y="3688.8" width="21.8" height="21.8" fill="#BFBF00"/><rect x="1657.9" y="3680.9" width="21.8" height="21.8" fill="#BFBF00"/><rect x="1766.7" y="3719.9" width="21.8" height="21.8" fill="#BFBF00"/></g>
<g><path d="M580.8 2868.6V2912.6M566.8 2868.6H594.8M566.8 2912.6H594.8" stroke="#000" stroke-width="3.8" fill="none"/><path d="M689.6 2866.5V2905.5M675.6 2866.5H703.6M675.6 2905.5H703.6" stroke="#000" stroke-width="3.8" fill="none"/><path d="M798.4 2867.5V2906.5M784.4 2867.5H812.4M784.4 2906.5H812.4" stroke="#000" stroke-width="3.8" fill="none"/><path d="M907.2 2868.1V2907.1M893.2 2868.1H921.2M893.2 2907.1H921.2" stroke="#000" stroke-width="3.8" fill="none"/><path d="M1016.0 2867.5V2906.5M1002.0 2867.5H1030.0M1002.0 2906.5H1030.0" stroke="#000" stroke-width="3.8" fill="none"/><path d="M1124.8 2868.5V2907.5M1110.8 2868.5H1138.8M1110.8 2907.5H1138.8" stroke="#000" stroke-width="3.8" fill="none"/><path d="M1233.6 2870.3V2909.3M1219.6 2870.3H1247.6M1219.6 2909.3H1247.6" stroke="#000" stroke-width="3.8" fill="none"/><path d="M1342.4 2870.5V2909.5M1328.4 2870.5H1356.4M1328.4 2909.5H1356.4" stroke="#000" stroke-width="3.8" fill="none"/><path d="M1451.2 2871.5V2910.5M1437.2 2871.5H1465.2M1437.2 2910.5H1465.2" stroke="#000" stroke-width="3.8" fill="none"/><path d="M1560.0 2874.2V2913.2M1546.0 2874.2H1574.0M1546.0 2913.2H1574.0" stroke="#000" stroke-width="3.8" fill="none"/><path d="M1668.8 2875.0V2914.0M1654.8 2875.0H1682.8M1654.8 2914.0H1682.8" stroke="#000" stroke-width="3.8" fill="none"/><path d="M1777.6 2875.8V2914.8M1763.6 2875.8H1791.6M1763.6 2914.8H1791.6" stroke="#000" stroke-width="3.8" fill="none"/><polyline points="472.0,2883.5 580.8,2890.6 689.6,2886.0 798.4,2887.0 907.2,2887.6 1016.0,2887.0 1124.8,2888.0 1233.6,2889.8 1342.4,2890.0 1451.2,2891.0 1560.0,2893.7 1668.8,2894.5 1777.6,2895.3" fill="none" stroke="#000000" stroke-width="4.0" stroke-linejoin="miter"/><circle cx="472.0" cy="2883.5" r="13.1" fill="none" stroke="#000" stroke-width="7.6"/><circle cx="580.8" cy="2890.6" r="13.1" fill="none" stroke="#000" stroke-width="7.6"/><circle cx="689.6" cy="2886.0" r="13.1" fill="none" stroke="#000" stroke-width="7.6"/><circle cx="798.4" cy="2887.0" r="13.1" fill="none" stroke="#000" stroke-width="7.6"/><circle cx="907.2" cy="2887.6" r="13.1" fill="none" stroke="#000" stroke-width="7.6"/><circle cx="1016.0" cy="2887.0" r="13.1" fill="none" stroke="#000" stroke-width="7.6"/><circle cx="1124.8" cy="2888.0" r="13.1" fill="none" stroke="#000" stroke-width="7.6"/><circle cx="1233.6" cy="2889.8" r="13.1" fill="none" stroke="#000" stroke-width="7.6"/><circle cx="1342.4" cy="2890.0" r="13.1" fill="none" stroke="#000" stroke-width="7.6"/><circle cx="1451.2" cy="2891.0" r="13.1" fill="none" stroke="#000" stroke-width="7.6"/><circle cx="1560.0" cy="2893.7" r="13.1" fill="none" stroke="#000" stroke-width="7.6"/><circle cx="1668.8" cy="2894.5" r="13.1" fill="none" stroke="#000" stroke-width="7.6"/><circle cx="1777.6" cy="2895.3" r="13.1" fill="none" stroke="#000" stroke-width="7.6"/></g>
</svg>
</body></html>
